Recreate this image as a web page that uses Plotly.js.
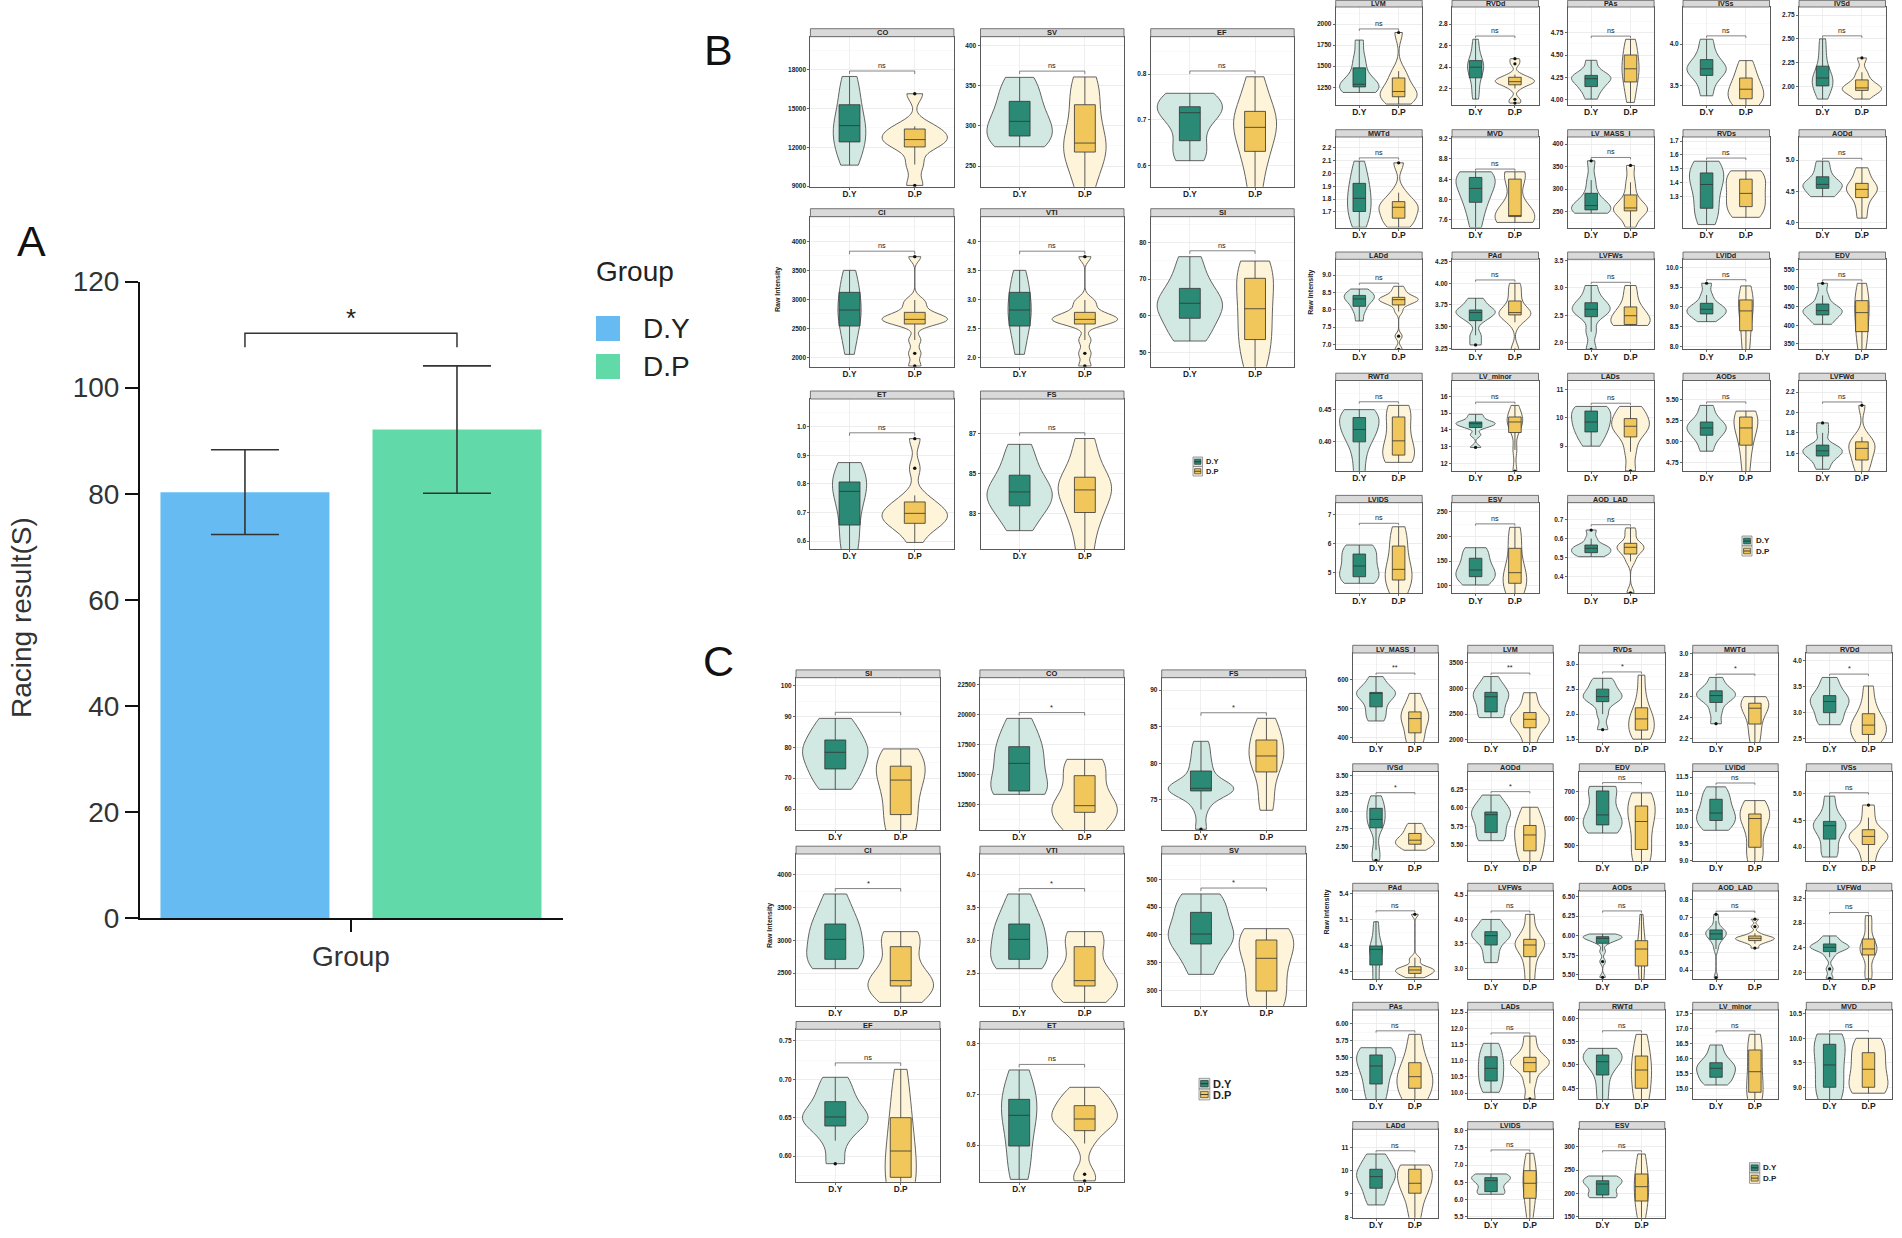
<!DOCTYPE html>
<html><head><meta charset="utf-8">
<script src="https://cdn.plot.ly/plotly-3.0.1.min.js"></script>
<style>html,body{margin:0;padding:0;background:#fff;}#chart{width:1902px;height:1238px;}</style>
</head><body><div id="chart"></div>
<script>
// ---------------- DATA ----------------
// Panel A
const groupsA = ['D.Y', 'D.P'];
const meansA = [80.3, 92.1];
const sdA = [8.0, 12.0];
const sigA = '*';
const cats = ['D.Y', 'D.P'];

// Panel B (left block)
const bLeftNames = ['CO','SV','EF','CI','VTI','SI','ET','FS'];
const bLeftDY = [
  [10620,11600,12420,13000,13680,14200,15300,16400,17490],
  [274,278,287.4,296,305.7,315,330.6,345,360.5],
  [0.611,0.63,0.6546,0.705,0.7156,0.725,0.7287,0.75,0.758],
  [2052,2350,2540,2700,2816,2950,3121,3300,3500],
  [2.052,2.35,2.54,2.70,2.816,2.95,3.121,3.30,3.50],
  [53.1,56,59.3,61.5,63.4,64.5,67.45,71,76.1],
  [0.55,0.60,0.656,0.72,0.774,0.79,0.807,0.84,0.875],
  [82.17,83.0,83.40,83.8,84.09,84.4,84.92,85.6,86.45]
];
const bLeftDP = [
  [9050,10670,12030,12400,12600,12900,13420,13630,16150],
  [215,245,267.4,272,278.6,300,326.4,345,361],
  [0.54,0.60,0.6313,0.665,0.6837,0.70,0.7186,0.75,0.794],
  [1850,2069,2300,2575,2610,2640,2655,2680,2720,2776,2900,2989,3736],
  [1.85,2.069,2.30,2.575,2.61,2.64,2.655,2.68,2.72,2.776,2.90,2.989,3.736],
  [44,50,53.5,57,61.9,66,70.2,73,74.9],
  [0.595,0.64,0.655,0.662,0.68,0.69,0.697,0.705,0.72,0.737,0.76,0.855,0.959],
  [81.0,82.3,83.07,83.7,84.19,84.5,84.82,85.7,86.74]
];
const bLeftSig = ['ns','ns','ns','ns','ns','ns','ns','ns'];
const bLeftTicks = [
  [9000,12000,15000,18000],[250,300,350,400],[0.6,0.7,0.8],[2000,2500,3000,3500,4000],
  [2.0,2.5,3.0,3.5,4.0],[50,60,70,80],[0.6,0.7,0.8,0.9,1.0],[83,85,87]
];
const bLeftRanges = [
  [8950,20570],[224.2,411.2],[0.5542,0.8815],[1839,4425],[1.839,4.425],[46.1,87],[0.572,1.098],[81.26,88.7]
];

// Panel B (right block)
const bRightNames = ['LVM','RVDd','PAs','IVSs','IVSd','MWTd','MVD','LV_MASS_I','RVDs','AODd',
  'LADd','PAd','LVFWs','LVIDd','EDV','RWTd','LV_minor','LADs','AODs','LVFWd','LVIDS','ESV','AOD_LAD'];
const bRightDY = [
  [1188,1200,1254,1270,1285,1330,1480,1600,1810],
  [2.102,2.2,2.30,2.35,2.399,2.43,2.46,2.55,2.659],
  [4.007,4.10,4.147,4.20,4.235,4.25,4.272,4.33,4.441],
  [3.372,3.52,3.62,3.67,3.70,3.75,3.812,3.92,4.06],
  [1.869,1.95,2.007,2.05,2.09,2.12,2.214,2.35,2.50],
  [1.58,1.65,1.703,1.76,1.806,1.87,1.923,2.0,2.096],
  [7.45,7.75,7.946,8.10,8.22,8.35,8.436,8.50,8.547],
  [246.3,250,253.7,258,263.3,270,290.6,320,363],
  [1.10,1.18,1.217,1.32,1.388,1.43,1.471,1.52,1.555],
  [4.415,4.44,4.548,4.57,4.612,4.65,4.734,4.85,4.984],
  [7.677,7.95,8.10,8.25,8.313,8.38,8.415,8.50,8.60],
  [3.288,3.40,3.569,3.62,3.662,3.68,3.692,3.76,3.827],
  [1.88,2.20,2.474,2.55,2.61,2.66,2.729,2.85,3.043],
  [8.63,8.75,8.824,8.88,8.941,9.0,9.092,9.30,9.597],
  [402.7,415,427.7,435,439.3,445,457,480,512.5],
  [0.345,0.375,0.40,0.41,0.4191,0.43,0.4377,0.445,0.45],
  [12.95,13.70,14.14,14.25,14.37,14.42,14.47,14.7,14.93],
  [9.0,9.3,9.505,9.7,9.857,10.0,10.245,10.35,10.41],
  [4.884,5.0,5.075,5.12,5.162,5.2,5.233,5.32,5.432],
  [1.443,1.52,1.573,1.60,1.624,1.65,1.68,1.80,1.898],
  [4.637,4.75,4.863,5.05,5.23,5.45,5.64,5.85,5.95],
  [101.4,110,118.3,125,131.8,142,155.6,170,177],
  [0.5045,0.515,0.5255,0.535,0.5484,0.555,0.5657,0.60,0.644]
];
const bRightDP = [
  [1050,1110,1137,1170,1199,1260,1360,1441,1900],
  [2.065,2.10,2.2,2.235,2.25,2.26,2.264,2.28,2.29,2.305,2.33,2.43,2.478],
  [3.97,4.10,4.199,4.30,4.346,4.40,4.50,4.60,4.676],
  [3.24,3.30,3.336,3.40,3.452,3.50,3.588,3.68,3.80],
  [1.869,1.93,1.96,1.975,1.986,2.02,2.07,2.15,2.30],
  [1.58,1.62,1.651,1.70,1.736,1.75,1.78,1.85,2.083],
  [7.55,7.60,7.665,7.67,7.68,7.85,8.403,8.50,8.547],
  [215,240,251.5,255,258,265,287,315,352.7],
  [1.152,1.19,1.229,1.28,1.324,1.37,1.426,1.46,1.486],
  [4.07,4.25,4.40,4.48,4.532,4.58,4.628,4.75,4.878],
  [6.857,7.236,7.95,8.14,8.20,8.25,8.292,8.31,8.33,8.36,8.45,8.55,8.68],
  [3.23,3.55,3.635,3.64,3.662,3.70,3.796,3.90,4.0],
  [2.314,2.32,2.332,2.42,2.492,2.56,2.652,2.85,3.043],
  [7.80,8.10,8.40,8.70,8.90,9.05,9.177,9.40,9.53],
  [330,360,383,410,434,450,466,495,512.5],
  [0.3682,0.372,0.3795,0.39,0.4016,0.42,0.4386,0.45,0.4566],
  [11.54,12.8,13.84,14.2,14.47,14.6,14.77,15.1,15.46],
  [8.12,8.8,9.328,9.55,9.706,9.85,9.977,10.25,10.41],
  [4.60,4.80,4.956,5.08,5.162,5.22,5.293,5.34,5.364],
  [1.40,1.48,1.534,1.60,1.648,1.68,1.712,1.76,2.07],
  [4.2,4.55,4.75,4.95,5.116,5.4,5.914,6.2,6.575],
  [80,95,104.9,115,126.4,140,175.8,200,218.4],
  [0.316,0.48,0.5186,0.54,0.5536,0.56,0.5745,0.62,0.655]
];
const bRightSig = bRightNames.map(() => 'ns');
const bRightTicks = [
  [1250,1500,1750,2000],[2.2,2.4,2.6,2.8],[4.00,4.25,4.50,4.75],[3.5,4.0],[2.00,2.25,2.50,2.75],
  [1.7,1.8,1.9,2.0,2.1,2.2],[7.6,8.0,8.4,8.8,9.2],[250,300,350,400],[1.3,1.4,1.5,1.6,1.7],[4.0,4.5,5.0],
  [7.0,7.5,8.0,8.5,9.0],[3.25,3.50,3.75,4.00,4.25],[2.0,2.5,3.0,3.5],[8.0,8.5,9.0,9.5,10.0],[350,400,450,500,550],
  [0.40,0.45],[12,13,14,15,16],[9,10,11],[4.75,5.00,5.25,5.50],[1.6,1.8,2.0,2.2],
  [5,6,7],[100,150,200,250],[0.4,0.5,0.6,0.7]
];
const bRightRanges = [
  [1039,2203],[2.047,2.959],[3.941,5.037],[3.26,4.452],[1.807,2.834],
  [1.578,2.285],[7.45,9.233],[214.5,416],[1.079,1.729],[3.92,5.372],
  [6.857,9.46],[3.238,4.277],[1.88,3.52],[7.933,10.2],[335.7,576.8],
  [0.3548,0.4952],[11.54,16.95],[8.118,11.33],[4.647,5.73],[1.426,2.314],
  [4.295,7.40],[84.6,268.2],[0.313,0.787]
];

// Panel C (left block)
const cLeftNames = ['SI','CO','FS','CI','VTI','SV','EF','ET'];
const cLeftDY = [
  [66.4,70,73.0,76,78.4,80,82.4,86,89.4],
  [13333,13500,13611,14500,15917,16500,17306,18300,19667],
  [71.0,73.7,75.5,76.23,76.4,76.5,76.59,76.8,77.5,78.95,80.0,81.5,83.0],
  [2566,2620,2709,2850,3015,3150,3250,3450,3709],
  [2.566,2.62,2.709,2.85,3.015,3.15,3.25,3.45,3.709],
  [328.8,360,383.5,395,401.5,420,440.5,460,473.6],
  [0.590,0.62,0.6391,0.645,0.6509,0.658,0.6709,0.685,0.7026],
  [0.532,0.56,0.598,0.63,0.6588,0.675,0.6904,0.72,0.7485]
];
const cLeftDP = [
  [50,55,58.2,64,69.4,71.5,73.9,77,79.5],
  [10000,11000,11833,12100,12389,13200,14889,15700,16250],
  [73.59,76,78.82,80,81.0,82,83.18,84.5,86.14],
  [2050,2200,2301,2340,2383,2550,2903,3050,3133],
  [2.05,2.20,2.301,2.34,2.383,2.55,2.903,3.05,3.133],
  [260,285,298.8,330,357.7,375,390.7,405,411.1],
  [0.545,0.56,0.5722,0.59,0.6065,0.63,0.65,0.68,0.713],
  [0.529,0.542,0.603,0.6284,0.64,0.648,0.6515,0.66,0.67,0.6779,0.69,0.70,0.7142]
];
const cLeftSig = ['','*','*','*','*','*','ns','ns'];
const cLeftTicks = [
  [60,70,80,90,100],[12500,15000,17500,20000,22500],[75,80,85,90],[2500,3000,3500,4000],
  [2.5,3.0,3.5,4.0],[300,350,400,450,500],[0.60,0.65,0.70,0.75],[0.6,0.7,0.8]
];
const cLeftRanges = [
  [53.2,102.6],[10361,23056],[70.9,91.68],[1995,4321],[1.995,4.321],[271.8,545.6],[0.5665,0.7652],[0.5274,0.829]
];

// Panel C (right block)
const cRightNames = ['LV_MASS_I','LVM','RVDs','MWTd','RVDd','IVSd','AODd','EDV','LVIDd','IVSs',
  'PAd','LVFWs','AODs','AOD_LAD','LVFWd','PAs','LADs','RWTd','LV_minor','MVD','LADd','LVIDS','ESV'];
const cRightDY = [
  [457.5,480,505.8,530,551.7,553,555,580,609],
  [2431,2460,2542,2750,2835,2880,2920,3050,3226],
  [1.69,2.0,2.25,2.30,2.35,2.42,2.50,2.62,2.717],
  [2.34,2.45,2.54,2.58,2.605,2.63,2.65,2.70,2.776],
  [2.768,2.85,3.00,3.12,3.215,3.27,3.33,3.50,3.681],
  [2.306,2.45,2.765,2.82,2.884,2.98,3.04,3.12,3.216],
  [5.559,5.60,5.668,5.80,5.909,5.93,5.945,6.05,6.173],
  [546,560,576,595,612.7,640,701,710,718],
  [9.902,10.05,10.196,10.30,10.42,10.60,10.833,11.0,11.206],
  [3.816,3.95,4.15,4.30,4.40,4.44,4.48,4.70,4.951],
  [4.35,4.45,4.576,4.70,4.756,4.77,4.795,4.95,5.074],
  [3.116,3.30,3.477,3.60,3.668,3.72,3.75,3.90,4.0],
  [5.47,5.67,5.80,5.903,5.93,5.95,5.966,5.975,5.98,5.987,6.0,6.01,6.021],
  [0.356,0.52,0.56,0.575,0.59,0.60,0.606,0.612,0.62,0.629,0.64,0.68,0.718],
  [1.908,2.059,2.25,2.339,2.37,2.40,2.409,2.42,2.44,2.463,2.50,2.55,2.592],
  [4.80,4.95,5.099,5.25,5.369,5.45,5.535,5.60,5.644],
  [10.025,10.2,10.374,10.6,10.765,10.95,11.123,11.35,11.537],
  [0.42,0.45,0.4785,0.50,0.507,0.515,0.5214,0.53,0.5357],
  [15.11,15.25,15.367,15.55,15.667,15.75,15.853,16.1,16.443],
  [8.70,8.85,9.0,9.25,9.455,9.65,9.878,10.0,10.088],
  [8.527,8.9,9.243,9.55,9.74,9.9,10.057,10.4,10.71],
  [6.151,6.18,6.227,6.40,6.547,6.60,6.634,6.70,6.741],
  [190.7,193,196.5,210,220,224,227.1,233,237.2]
];
const cRightDP = [
  [370,395,417,450,465.6,478,488.5,515,551.7],
  [1880,2100,2235,2330,2398,2450,2529,2700,2913],
  [1.50,1.60,1.682,1.80,1.905,1.98,2.127,2.40,2.78],
  [2.15,2.25,2.337,2.43,2.486,2.51,2.533,2.58,2.595],
  [2.40,2.50,2.58,2.70,2.76,2.85,2.98,3.20,3.515],
  [2.448,2.50,2.533,2.56,2.59,2.62,2.685,2.75,2.827],
  [5.25,5.35,5.423,5.55,5.636,5.70,5.764,5.90,6.009],
  [440,470,485.5,560,588.5,620,645.5,670,694],
  [8.9,9.2,9.392,10.0,10.255,10.32,10.392,10.6,10.794],
  [3.70,3.90,4.049,4.15,4.20,4.25,4.325,4.55,4.785],
  [4.43,4.45,4.47,4.48,4.50,4.51,4.519,4.53,4.545,4.557,4.62,4.66,5.159],
  [2.72,3.00,3.238,3.40,3.477,3.54,3.593,3.80,4.104],
  [5.40,5.50,5.614,5.75,5.83,5.88,5.936,6.10,6.271],
  [0.525,0.55,0.56,0.568,0.572,0.576,0.581,0.585,0.59,0.594,0.61,0.648,0.69],
  [1.90,2.05,2.285,2.35,2.382,2.45,2.543,2.75,2.92],
  [4.80,4.92,5.035,5.12,5.209,5.30,5.419,5.60,5.845],
  [9.82,10.3,10.66,10.85,10.94,11.0,11.105,11.4,11.76],
  [0.41,0.43,0.45,0.47,0.4892,0.50,0.5192,0.545,0.5657],
  [14.5,14.7,14.867,15.2,15.553,15.9,16.277,16.6,16.8],
  [8.878,8.95,9.0,9.2,9.367,9.55,9.706,9.9,10.0],
  [7.9,8.5,9.029,9.3,9.457,9.75,10.057,10.2,10.24],
  [5.40,5.80,6.035,6.30,6.471,6.65,6.837,7.1,7.343],
  [145,165,183.6,200,214.3,228,241.5,265,284.4]
];
const cRightSig = ['**','**','*','*','*','*','*','ns','ns','ns','ns','ns','ns','ns','ns','ns','ns','ns','ns','ns','ns','ns','ns'];
const cRightTicks = [
  [400,500,600],[2000,2500,3000,3500],[1.5,2.0,2.5,3.0],[2.2,2.4,2.6,2.8,3.0],[2.5,3.0,3.5,4.0],
  [2.50,2.75,3.00,3.25,3.50],[5.50,5.75,6.00,6.25],[500,600,700],[9.0,9.5,10.0,10.5,11.0,11.5],[4.0,4.5,5.0],
  [4.5,4.8,5.1,5.4],[3.0,3.5,4.0,4.5],[5.50,5.75,6.00,6.25,6.50],[0.4,0.5,0.6,0.7,0.8],[2.0,2.4,2.8,3.2],
  [5.00,5.25,5.50,5.75,6.00],[10.0,10.5,11.0,11.5,12.0,12.5],[0.45,0.50,0.55,0.60],[15.0,15.5,16.0,16.5,17.0,17.5],[9.0,9.5,10.0,10.5],
  [8,9,10,11],[5.5,6.0,6.5,7.0,7.5,8.0],[150,200,250,300]
];
const cRightRanges = [
  [385,689.6],[1955,3682],[1.44,3.222],[2.166,3.006],[2.43,4.153],
  [2.296,3.56],[5.286,6.49],[443,772.7],[8.98,11.667],[3.742,5.41],
  [4.412,5.427],[2.775,4.582],[5.445,6.568],[0.347,0.851],[1.892,3.318],
  [4.874,6.21],[9.818,12.565],[0.427,0.618],[14.643,17.61],[8.76,10.578],
  [7.98,11.77],[5.47,8.04],[147.8,337.3]
];

// ---------------- LAYOUT / STYLE ----------------
const W = 1902, H = 1238;
const F = 'Liberation Sans, Arial, sans-serif';
const colorsA = ['#66bcf2', '#61d9a9'];
const vFill = ['rgba(205,229,223,0.9)', 'rgba(253,243,214,0.9)'];
const bFill = ['#2b8a76', '#f1c75c'];

const gridBL = {cols:[810.4,980.5,1150.7], w:143.5, rows:[[36.7,186.7],[216.7,366.7],[399,549]], strip:8,
  st:{tick:6.5, cat:8.3, strip:7.5, sig:7.3, pt:3.4}, leg:{x:1193, y:457, s:9.5, f:7.5}, ytitle:{x:778, y:290}};
const gridBR = {cols:[1335.7,1452,1567.6,1683,1799], w:86.5, rows:[[7,105],[137,227.5],[259.3,349.3],[380.5,471],[502.7,593.3]], strip:7.3,
  st:{tick:6.5, cat:8.5, strip:7.2, sig:7.2, pt:3.2}, leg:{x:1742, y:536, s:10, f:8}, ytitle:{x:1310.7, y:292}};
const gridCL = {cols:[796,979.9,1161.7], w:144, rows:[[677.7,830],[854,1006],[1029.3,1181.7]], strip:7.8,
  st:{tick:6.5, cat:8.3, strip:7.5, sig:7.5, pt:3.4}, leg:{x:1199, y:1078.3, s:10.8, f:11}, ytitle:{x:770, y:926}};
const gridCR = {cols:[1352.7,1467.7,1579.3,1692.7,1806.3], w:85.5, rows:[[653,742.2],[771.5,861],[891,979.3],[1010,1099],[1129.3,1217.7]], strip:7.7,
  st:{tick:6.5, cat:8.5, strip:7.2, sig:7.2, pt:3.2}, leg:{x:1749.5, y:1162.7, s:10.3, f:8}, ytitle:{x:1326.5, y:912}};

const traces = [], shapes = [], annotations = [];
const layout = {width:W, height:H, margin:{l:0,r:0,t:0,b:0,pad:0}, paper_bgcolor:'#fff', plot_bgcolor:'rgba(0,0,0,0)',
  showlegend:false, boxmode:'overlay', violinmode:'overlay', violingap:0, violingroupgap:0,
  shapes, annotations, font:{family:F}};
const dx = p => p / W;
const dy = p => 1 - p / H;
function paperText(xp, yp, text, font, xanchor, extra) {
  annotations.push(Object.assign({xref:'paper', yref:'paper', x:dx(xp), y:dy(yp), text, showarrow:false,
    xanchor:xanchor || 'center', yanchor:'middle', font}, extra || {}));
}

// ---------- Panel A ----------
layout.xaxis = {domain:[dx(140), dx(563)], range:[-0.495, 1.5], tickvals:[0.5], ticktext:['Group'],
  ticks:'outside', ticklen:12, tickwidth:2, tickcolor:'#111', showline:true, linecolor:'#111', linewidth:2,
  showgrid:false, zeroline:false, tickfont:{family:F, size:28, color:'#333'}, anchor:'y', fixedrange:true};
layout.yaxis = {domain:[dy(918), dy(281.6)], range:[0,120], tickvals:[0,20,40,60,80,100,120],
  ticks:'outside', ticklen:13, tickwidth:2, tickcolor:'#111', showline:true, linecolor:'#111', linewidth:2,
  showgrid:false, zeroline:false, tickfont:{family:F, size:28, color:'#333'}, anchor:'x', fixedrange:true};
groupsA.forEach((g, i) => {
  traces.push({type:'bar', name:g, x:[i], y:[meansA[i]], width:0.797, marker:{color:colorsA[i], line:{width:0}},
    error_y:{type:'data', array:[sdA[i]], visible:true, color:'#333', thickness:1.6, width:34},
    xaxis:'x', yaxis:'y', hoverinfo:'skip'});
});
const topA = Math.max(...meansA.map((m, i) => m + sdA[i]));
const brA = topA + 6.15, tipA = 2.65;
shapes.push({type:'path', xref:'x', yref:'y', path:`M 0,${brA - tipA} L 0,${brA} L 1,${brA} L 1,${brA - tipA}`,
  line:{color:'#333', width:1.5}});
annotations.push({xref:'x', yref:'y', x:0.5, y:brA, text:sigA, showarrow:false, xanchor:'center', yanchor:'bottom',
  font:{family:F, size:26, color:'#222'}, yshift:-2});
paperText(21, 618, 'Racing result(S)', {family:F, size:28, color:'#333'}, 'center', {textangle:-90});
paperText(31, 241, 'A', {family:F, size:43, color:'#111'});
paperText(718, 50, 'B', {family:F, size:43, color:'#111'});
paperText(718, 661, 'C', {family:F, size:43, color:'#111'});
// legend A
paperText(594, 271.5, 'Group', {family:F, size:28, color:'#222'}, 'left');
[[316,341],[354,379]].forEach((r, i) => {
  shapes.push({type:'rect', xref:'paper', yref:'paper', x0:dx(596), x1:dx(620), y0:dy(r[1]), y1:dy(r[0]),
    fillcolor:colorsA[i], line:{width:0}});
  paperText(641, (r[0] + r[1]) / 2, groupsA[i], {family:F, size:28, color:'#222'}, 'left');
});

// ---------- helpers ----------
function q7(s, p) { const h = (s.length - 1) * p; const lo = Math.floor(h); const hi = Math.min(lo + 1, s.length - 1); return s[lo] + (h - lo) * (s[hi] - s[lo]); }
function nrd0(arr) {
  const s = [...arr].sort((a, b) => a - b); const n = s.length;
  const mean = s.reduce((a, b) => a + b, 0) / n;
  const sd = Math.sqrt(s.reduce((a, b) => a + (b - mean) * (b - mean), 0) / (n - 1));
  const iqr = q7(s, 0.75) - q7(s, 0.25);
  let lo = Math.min(sd, iqr / 1.34); if (!(lo > 0)) lo = sd || 1;
  return 0.9 * lo * Math.pow(n, -0.2);
}
function decimals(ticks) { return Math.max(...ticks.map(t => { const s = String(t); const i = s.indexOf('.'); return i < 0 ? 0 : s.length - i - 1; })); }

let axN = 1;
function addPanel(name, dyv, dpv, sig, ticks, range, box, st, stripH) {
  axN++;
  const xa = 'x' + axN, ya = 'y' + axN;
  const step = ticks.length > 1 ? ticks[1] - ticks[0] : 1;
  const minor = ticks.map(t => t - step / 2).concat([ticks[ticks.length - 1] + step / 2]).filter(v => v > range[0] && v < range[1]);
  const lineC = '#5a5a5a';
  layout['xaxis' + axN] = {domain:[dx(box.x0), dx(box.x1)], range:[-0.6, 1.6], tickvals:[0, 1], ticktext:cats, anchor:ya,
    showline:true, mirror:true, linecolor:lineC, linewidth:1, ticks:'outside', ticklen:2, tickcolor:'#444', tickwidth:0.8,
    ticklabelstandoff:-3,
    tickfont:{family:F, size:st.cat, weight:'bold', color:'#222'}, showgrid:true, gridcolor:'#ebebeb', gridwidth:0.8,
    zeroline:false, fixedrange:true};
  layout['yaxis' + axN] = {domain:[dy(box.y1), dy(box.y0)], range:range, tickvals:ticks, tickformat:'.' + decimals(ticks) + 'f',
    anchor:xa, showline:true, mirror:true, linecolor:lineC, linewidth:1, ticks:'outside', ticklen:2, tickcolor:'#444', tickwidth:0.8,
    tickfont:{family:F, size:st.tick, weight:'bold', color:'#222'}, showgrid:true, gridcolor:'#e8e8e8', gridwidth:0.8,
    minor:{tickvals:minor, showgrid:true, gridcolor:'#f4f4f4', gridwidth:0.5, ticks:''}, zeroline:false, fixedrange:true};
  // violins: no explicit width so that the shared scalegroup gives ggplot-like "area" scaling
  [dyv, dpv].forEach((vals, k) => {
    traces.push({type:'violin', name:cats[k], x0:k, y:vals, xaxis:xa, yaxis:ya, scalegroup:'s' + axN,
      scalemode:'width', spanmode:'hard', bandwidth:nrd0(vals), points:false, box:{visible:false},
      meanline:{visible:false}, fillcolor:vFill[k], line:{color:'#5c5c5c', width:0.95}, hoverinfo:'skip'});
  });
  [dyv, dpv].forEach((vals, k) => {
    traces.push({type:'box', name:cats[k], x0:k, y:vals, xaxis:xa, yaxis:ya, width:0.32, quartilemethod:'inclusive',
      boxpoints:'outliers', whiskerwidth:0, fillcolor:bFill[k], line:{color:'#333', width:0.8},
      marker:{color:'#111', size:st.pt, line:{width:0}}, hoverinfo:'skip'});
  });
  // strip
  const sTop = Math.max(0.3, box.y0 - stripH);
  shapes.push({type:'rect', xref:'paper', yref:'paper', x0:dx(box.x0), x1:dx(box.x1), y0:dy(box.y0), y1:dy(sTop),
    fillcolor:'#d9d9d9', line:{color:'#555', width:0.8}});
  paperText((box.x0 + box.x1) / 2, (sTop + box.y0) / 2, name, {family:F, size:st.strip, weight:'bold', color:'#222'});
  // significance bracket
  const all = dyv.concat(dpv);
  const mx = Math.max(...all), mn = Math.min(...all);
  const yb = mx + 0.05 * (mx - mn);
  const tip = 0.02 * (range[1] - range[0]);
  shapes.push({type:'path', xref:xa, yref:ya, path:`M 0,${yb - tip} L 0,${yb} L 1,${yb} L 1,${yb - tip}`,
    line:{color:'#666', width:0.8}});
  if (sig) annotations.push({xref:xa, yref:ya, x:0.5, y:yb, text:sig, showarrow:false, xanchor:'center', yanchor:'bottom', yshift:-1,
    font:{family:F, size:st.sig, color:'#222'}});
}

function addBlock(names, DY, DP, sigs, ticks, ranges, g) {
  const nc = g.cols.length;
  names.forEach((nm, i) => {
    const r = Math.floor(i / nc), c = i % nc;
    const box = {x0:g.cols[c], x1:g.cols[c] + g.w, y0:g.rows[r][0], y1:g.rows[r][1]};
    addPanel(nm, DY[i], DP[i], sigs[i], ticks[i], ranges[i], box, g.st, g.strip);
  });
  // legend
  const L = g.leg;
  cats.forEach((c, k) => {
    const y0 = L.y + k * L.s;
    shapes.push({type:'rect', xref:'paper', yref:'paper', x0:dx(L.x), x1:dx(L.x + L.s), y0:dy(y0 + L.s), y1:dy(y0),
      fillcolor:vFill[k], line:{color:'#777', width:0.7}});
    shapes.push({type:'rect', xref:'paper', yref:'paper', x0:dx(L.x + 1.6), x1:dx(L.x + L.s - 1.6), y0:dy(y0 + L.s - 2.2), y1:dy(y0 + 2.2),
      fillcolor:bFill[k], line:{color:'#333', width:0.7}});
    shapes.push({type:'line', xref:'paper', yref:'paper', x0:dx(L.x + 1.6), x1:dx(L.x + L.s - 1.6), y0:dy(y0 + L.s / 2), y1:dy(y0 + L.s / 2),
      line:{color:'#222', width:0.8}});
    paperText(L.x + L.s + 1.5, y0 + L.s / 2, c, {family:F, size:L.f, weight:'bold', color:'#222'}, 'left');
  });
  paperText(g.ytitle.x, g.ytitle.y, 'Raw Intensity', {family:F, size:7, weight:'bold', color:'#222'}, 'center', {textangle:-90});
}

addBlock(bLeftNames, bLeftDY, bLeftDP, bLeftSig, bLeftTicks, bLeftRanges, gridBL);
addBlock(bRightNames, bRightDY, bRightDP, bRightSig, bRightTicks, bRightRanges, gridBR);
addBlock(cLeftNames, cLeftDY, cLeftDP, cLeftSig, cLeftTicks, cLeftRanges, gridCL);
addBlock(cRightNames, cRightDY, cRightDP, cRightSig, cRightTicks, cRightRanges, gridCR);

Plotly.newPlot('chart', traces, layout, {displayModeBar:false, staticPlot:true});
</script></body></html>
